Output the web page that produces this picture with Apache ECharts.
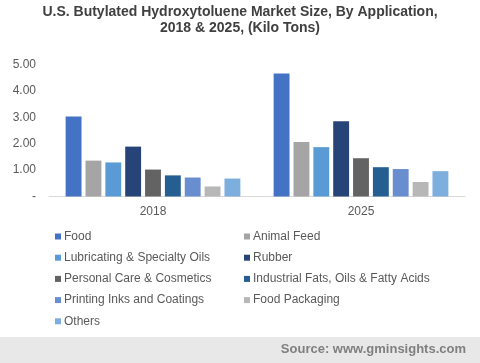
<!DOCTYPE html>
<html><head><meta charset="utf-8">
<script src="https://cdn.jsdelivr.net/npm/echarts@6/dist/echarts.min.js"></script>
<style>html,body{margin:0;padding:0;background:#fff}#c{width:480px;height:363px}</style>
</head><body><div id="c"></div>
<script>
const years = ['2018', '2025'];
const seriesNames = ['Food','Animal Feed','Lubricating & Specialty Oils','Rubber','Personal Care & Cosmetics','Industrial Fats, Oils & Fatty Acids','Printing Inks and Coatings','Food Packaging','Others'];
const food = [3.03, 4.66];
const animalFeed = [1.36, 2.06];
const lubricating = [1.29, 1.87];
const rubber = [1.89, 2.85];
const personalCare = [1.02, 1.45];
const industrialFats = [0.80, 1.11];
const printingInks = [0.72, 1.04];
const foodPackaging = [0.38, 0.55];
const others = [0.68, 0.96];
const values = [food, animalFeed, lubricating, rubber, personalCare, industrialFats, printingInks, foodPackaging, others];
const colors = ['#4472C4','#A5A5A5','#5B9BD5','#264478','#636363','#255E91','#698ED0','#B7B7B7','#7CAFDD'];

const chart = echarts.init(document.getElementById('c'));
const font = 'Liberation Sans, Arial, sans-serif';
const legendCommon = {orient: 'vertical', top: 230.5, padding: 0, itemWidth: 6, itemHeight: 6, itemGap: 9.2, icon: 'rect',
  textStyle: {fontFamily: font, fontSize: 12, color: '#595959', padding: [0, 0, 0, -2]}};
chart.setOption({
  animation: false,
  title: {
    text: 'U.S. Butylated Hydroxytoluene Market Size, By Application,\n2018 & 2025, (Kilo Tons)',
    left: 'center', top: -1,
    textStyle: {fontFamily: font, fontSize: 14, fontWeight: 'bold', color: '#404040', lineHeight: 16}
  },
  graphic: [
    {type: 'rect', shape: {x: 0, y: 337, width: 480, height: 26}, style: {fill: '#E8E8E8'}, z: -1},
    {type: 'text', right: 14, top: 343, style: {text: 'Source: www.gminsights.com', fill: '#7F7F7F', font: 'bold 13px Liberation Sans, Arial, sans-serif'}}
  ],
  legend: [
    Object.assign({data: [seriesNames[0], seriesNames[2], seriesNames[4], seriesNames[6], seriesNames[8]], left: 55}, legendCommon),
    Object.assign({data: [seriesNames[1], seriesNames[3], seriesNames[5], seriesNames[7]], left: 244}, legendCommon)
  ],
  grid: {left: 49, right: 15, top: 64.5, bottom: 166.5, containLabel: false},
  xAxis: {
    type: 'category', data: years,
    axisLine: {lineStyle: {color: '#D9D9D9'}}, axisTick: {show: false},
    axisLabel: {fontFamily: font, fontSize: 12, color: '#595959', margin: 9}
  },
  yAxis: {
    type: 'value', min: 0, max: 5, interval: 1,
    axisLine: {show: false}, axisTick: {show: false}, splitLine: {show: false},
    axisLabel: {fontFamily: font, fontSize: 12, color: '#595959', margin: 13,
      formatter: v => v === 0 ? '-' : v.toFixed(2)}
  },
  series: seriesNames.map((n, i) => ({
    name: n, type: 'bar', data: values[i], barGap: '25%', barCategoryGap: '16%',
    itemStyle: {color: colors[i]}
  }))
});
</script></body></html>
